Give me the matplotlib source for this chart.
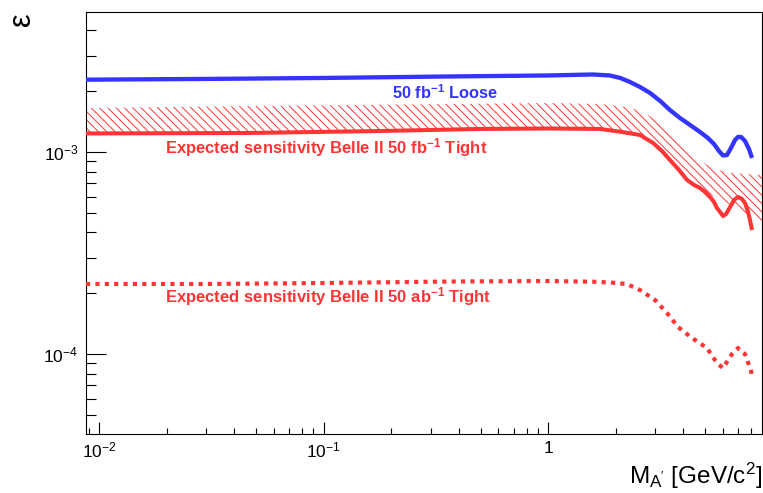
import numpy as np
import matplotlib
matplotlib.use("Agg")
import matplotlib.pyplot as plt
from matplotlib.ticker import FixedLocator, FixedFormatter, NullFormatter

plt.rcParams["font.family"] = ["Liberation Sans", "DejaVu Sans"]
plt.rcParams["mathtext.fontset"] = "custom"
plt.rcParams["mathtext.rm"] = "Liberation Sans"
plt.rcParams["mathtext.it"] = "Liberation Sans:italic"
plt.rcParams["mathtext.bf"] = "Liberation Sans:bold"
plt.rcParams["hatch.linewidth"] = 0.7

# --- sensitivity curves: dark-photon mass [GeV/c^2] vs epsilon ---
loose_mass = [0.00873, 0.0281, 0.100, 0.365, 1.00, 1.58, 1.88, 2.09, 2.31, 2.56,
              2.84, 3.15, 3.48, 3.86, 4.28, 4.74, 5.14, 5.47, 5.76, 6.00,
              6.25, 6.51, 6.79, 7.00, 7.22, 7.52, 7.83, 8.08]
loose_eps = [2.280e-3, 2.298e-3, 2.325e-3, 2.365e-3, 2.392e-3, 2.419e-3, 2.392e-3,
             2.325e-3, 2.221e-3, 2.098e-3, 1.959e-3, 1.789e-3, 1.614e-3, 1.473e-3,
             1.360e-3, 1.256e-3, 1.173e-3, 1.095e-3, 1.011e-3, 0.961e-3,
             0.966e-3, 1.047e-3, 1.147e-3, 1.187e-3, 1.187e-3, 1.133e-3, 1.035e-3,
             0.934e-3]

tight_mass = [0.00873, 0.0469, 0.178, 0.496, 1.00, 1.70, 2.09, 2.56, 2.93, 3.21,
              3.48, 3.82, 4.15, 4.46, 4.74, 4.99, 5.25, 5.47, 5.64, 5.82,
              6.00, 6.19, 6.45, 6.72, 7.00, 7.29, 7.52, 7.76, 7.91, 8.08]
tight_eps = [1.235e-3, 1.242e-3, 1.270e-3, 1.300e-3, 1.307e-3, 1.300e-3, 1.260e-3,
             1.214e-3, 1.108e-3, 1.011e-3, 0.913e-3, 0.815e-3, 0.727e-3, 0.687e-3,
             0.663e-3, 0.634e-3, 0.599e-3, 0.566e-3, 0.528e-3, 0.505e-3,
             0.482e-3, 0.493e-3, 0.534e-3, 0.579e-3, 0.599e-3, 0.585e-3, 0.559e-3,
             0.505e-3, 0.461e-3, 0.411e-3]

ab_mass = [0.00873, 0.0281, 0.100, 0.365, 1.00, 1.58, 1.88, 2.24, 2.56, 2.99, 3.38,
           3.78, 4.37, 5.09, 5.64, 6.00, 6.58, 7.00, 7.52, 8.00, 8.08]
ab_eps = [2.221e-4, 2.221e-4, 2.246e-4, 2.285e-4, 2.298e-4, 2.280e-4, 2.260e-4,
          2.221e-4, 2.074e-4, 1.851e-4, 1.596e-4, 1.361e-4, 1.200e-4, 1.071e-4,
          0.902e-4, 0.852e-4, 1.000e-4, 1.071e-4, 1.000e-4, 0.824e-4, 0.752e-4]

# uncertainty band around the 50 fb^-1 tight curve
band_mass = [0.00873, 0.0469, 0.178, 0.496, 1.00, 1.70, 2.09, 2.56, 2.93, 3.48,
             4.15, 4.74, 5.50, 6.45, 8.95]
band_lo = [1.235e-3, 1.242e-3, 1.270e-3, 1.300e-3, 1.307e-3, 1.300e-3, 1.260e-3,
           1.214e-3, 1.108e-3, 0.913e-3, 0.727e-3, 0.663e-3, 0.599e-3, 0.547e-3,
           0.445e-3]
band_hi = [1.651e-3, 1.688e-3, 1.715e-3, 1.734e-3, 1.748e-3, 1.728e-3, 1.689e-3,
           1.605e-3, 1.473e-3, 1.285e-3, 1.047e-3, 0.903e-3, 0.824e-3, 0.787e-3,
           0.769e-3]

x_major = [1e-2, 1e-1, 1.0]
x_major_labels = [r"$10^{-2}$", r"$10^{-1}$", "1"]
y_major = [1e-4, 1e-3]
y_major_labels = [r"$10^{-4}$", r"$10^{-3}$"]

BLUE = "#3434ff"
RED = "#ff3434"

fig = plt.figure(figsize=(7.63, 4.93), dpi=100)
ax = fig.add_axes([86 / 763, 59 / 493, 676 / 763, 422 / 493])
ax.set_xscale("log")
ax.set_yscale("log")
ax.set_xlim(0.00873, 8.95)
ax.set_ylim(4.02e-5, 4.93e-3)

ax.fill_between(band_mass, band_lo, band_hi, facecolor="none", edgecolor=RED,
                hatch="\\\\\\\\", linewidth=0, zorder=1)
ax.plot(loose_mass, loose_eps, color=BLUE, lw=3.1, solid_joinstyle="round",
        solid_capstyle="butt", zorder=3)
ax.plot(tight_mass, tight_eps, color=RED, lw=2.9, solid_joinstyle="round",
        solid_capstyle="butt", zorder=3)
ax.plot(ab_mass, ab_eps, color=RED, lw=3.0, dashes=(1.0, 1.25),
        dash_capstyle="butt", zorder=3)

ax.text(0.453, 0.808, r"$\mathbf{50\ fb^{-1}\ Loose}$", color=BLUE,
        fontsize=11.8, transform=ax.transAxes, ha="left", va="center")
ax.text(0.117, 0.678, r"$\mathbf{Expected\ sensitivity\ Belle\ II\ 50\ fb^{-1}\ Tight}$",
        color=RED, fontsize=12, transform=ax.transAxes, ha="left", va="center")
ax.text(0.117, 0.325, r"$\mathbf{Expected\ sensitivity\ Belle\ II\ 50\ ab^{-1}\ Tight}$",
        color=RED, fontsize=12, transform=ax.transAxes, ha="left", va="center")

# axes ticks in the ROOT style: inward, bottom/left only
ax.xaxis.set_major_locator(FixedLocator(x_major))
ax.xaxis.set_major_formatter(FixedFormatter(x_major_labels))
x_minor = [m * 10.0 ** e for e in (-3, -2, -1, 0) for m in range(2, 10)]
ax.xaxis.set_minor_locator(FixedLocator(x_minor))
ax.xaxis.set_minor_formatter(NullFormatter())
ax.yaxis.set_major_locator(FixedLocator(y_major))
ax.yaxis.set_major_formatter(FixedFormatter(y_major_labels))
y_minor = [m * 10.0 ** e for e in (-5, -4, -3) for m in range(2, 10)]
ax.yaxis.set_minor_locator(FixedLocator(y_minor))
ax.yaxis.set_minor_formatter(NullFormatter())

ax.tick_params(axis="x", which="major", direction="in", length=8.4, width=0.8,
               labelsize=12.5, pad=5, top=False)
ax.tick_params(axis="x", which="minor", direction="in", length=4.1, width=0.8, top=False)
ax.tick_params(axis="y", which="major", direction="in", length=14.4, width=0.8,
               labelsize=12.5, pad=5.5, right=False)
ax.tick_params(axis="y", which="minor", direction="in", length=7.5, width=0.8, right=False)
for s in ax.spines.values():
    s.set_linewidth(0.8)

fig.text(762 / 763, 1 - 476 / 493, r"M$_{\mathrm{A'}}$ [GeV/c$^{2}$]", fontsize=17.5,
         ha="right", va="center")
fig.text(22 / 763, 1 - 19 / 493, "ε", fontsize=22, rotation=90, ha="center", va="center")

fig.savefig("out.png", dpi=100)
